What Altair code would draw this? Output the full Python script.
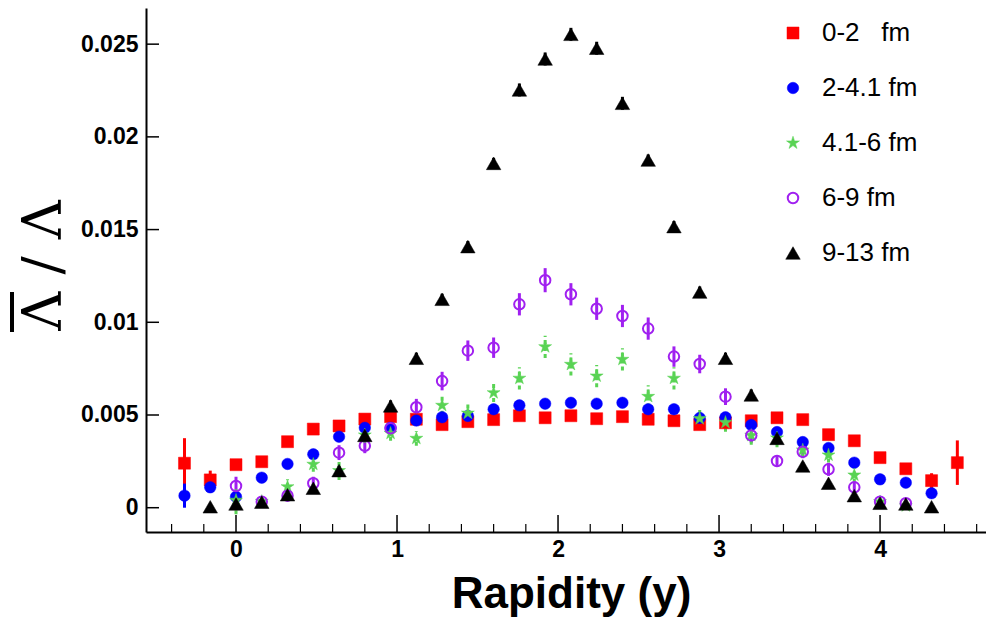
import altair as alt
import pandas as pd

# ---------------- data ----------------
rapidity = [-0.32, -0.16, 0.00, 0.16, 0.32, 0.48, 0.64, 0.80, 0.96, 1.12, 1.28,
            1.44, 1.60, 1.76, 1.92, 2.08, 2.24, 2.40, 2.56, 2.72, 2.88, 3.04,
            3.20, 3.36, 3.52, 3.68, 3.84, 4.00, 4.16, 4.32, 4.48]

series_names = ["0-2\u00a0\u00a0\u00a0fm", "2-4.1 fm", "4.1-6 fm", "6-9 fm", "9-13 fm"]

b_0_2 = [0.00240, 0.00150, 0.00232, 0.00248, 0.00356, 0.00424, 0.00441, 0.00478,
         0.00491, 0.00477, 0.00448, 0.00464, 0.00475, 0.00496, 0.00485, 0.00496,
         0.00480, 0.00491, 0.00477, 0.00469, 0.00448, 0.00458, 0.00469, 0.00485,
         0.00475, 0.00394, 0.00361, 0.00270, 0.00210, 0.00146, 0.00243]
e_0_2 = [0.00135, 0.00050, 0.00012, 0.00012, 0.00012, 0.00012, 0.00012, 0.00012,
         0.00012, 0.00012, 0.00012, 0.00012, 0.00012, 0.00012, 0.00012, 0.00012,
         0.00012, 0.00012, 0.00012, 0.00012, 0.00012, 0.00012, 0.00012, 0.00012,
         0.00012, 0.00012, 0.00012, 0.00012, 0.00012, 0.00040, 0.00120]

b_2_4 = [0.00065, 0.00110, 0.00059, 0.00162, 0.00236, 0.00288, 0.00383, 0.00431,
         0.00431, 0.00470, 0.00488, 0.00495, 0.00531, 0.00552, 0.00561, 0.00566,
         0.00561, 0.00566, 0.00531, 0.00531, 0.00484, 0.00488, 0.00446, 0.00408,
         0.00354, 0.00322, 0.00243, 0.00153, 0.00135, 0.00078, None]
e_2_4 = [0.00065, 0.00030, 0.00020, 0.00015, 0.00015, 0.00015, 0.00015, 0.00015,
         0.00015, 0.00015, 0.00015, 0.00015, 0.00015, 0.00015, 0.00015, 0.00015,
         0.00015, 0.00015, 0.00015, 0.00015, 0.00015, 0.00015, 0.00015, 0.00015,
         0.00015, 0.00015, 0.00015, 0.00015, 0.00015, 0.00020, None]

b_4_6 = [None, None, 0.00040, 0.00034, 0.00113, 0.00234, 0.00200, 0.00392,
         0.00401, 0.00374, 0.00552, 0.00510, 0.00620, 0.00698, 0.00868, 0.00773,
         0.00710, 0.00800, 0.00600, 0.00698, 0.00480, 0.00460, 0.00390, 0.00376,
         0.00311, 0.00284, 0.00176, 0.00032, 0.00010, None, None]
e_4_6 = [None, None, 0.00075, 0.00030, 0.00040, 0.00040, 0.00050, 0.00040,
         0.00040, 0.00040, 0.00050, 0.00050, 0.00050, 0.00060, 0.00060, 0.00060,
         0.00060, 0.00060, 0.00060, 0.00060, 0.00050, 0.00050, 0.00050, 0.00050,
         0.00040, 0.00040, 0.00040, 0.00030, 0.00020, None, None]

b_6_9 = [None, None, 0.00117, 0.00032, 0.00065, 0.00132, 0.00297, 0.00334,
         0.00428, 0.00542, 0.00683, 0.00847, 0.00863, 0.01097, 0.01227, 0.01151,
         0.01073, 0.01034, 0.00966, 0.00815, 0.00775, 0.00599, 0.00390, 0.00252,
         0.00302, 0.00207, 0.00110, 0.00032, 0.00024, None, None]
e_6_9 = [None, None, 0.00050, 0.00030, 0.00030, 0.00035, 0.00040, 0.00040,
         0.00040, 0.00045, 0.00050, 0.00055, 0.00055, 0.00060, 0.00065, 0.00060,
         0.00060, 0.00060, 0.00060, 0.00055, 0.00050, 0.00045, 0.00040, 0.00030,
         0.00035, 0.00035, 0.00030, 0.00020, 0.00020, None, None]

b_9_13 = [None, 0.00005, 0.00020, 0.00030, 0.00070, 0.00105, 0.00200, 0.00390,
          0.00549, 0.00806, 0.01124, 0.01408, 0.01857, 0.02253, 0.02420, 0.02553,
          0.02478, 0.02181, 0.01875, 0.01516, 0.01163, 0.00806, 0.00608, 0.00374,
          0.00225, 0.00132, 0.00065, 0.00024, 0.00020, 0.00005, None]
e_9_13 = [None, 0.00010, 0.00020, 0.00020, 0.00020, 0.00020, 0.00025, 0.00030,
          0.00030, 0.00030, 0.00030, 0.00030, 0.00030, 0.00035, 0.00035, 0.00035,
          0.00035, 0.00035, 0.00030, 0.00030, 0.00030, 0.00030, 0.00030, 0.00025,
          0.00020, 0.00020, 0.00020, 0.00010, 0.00010, 0.00010, None]

x_major = [0, 1, 2, 3, 4]
x_minor = [-0.4, -0.2, 0.2, 0.4, 0.6, 0.8, 1.2, 1.4, 1.6, 1.8, 2.2, 2.4, 2.6, 2.8,
           3.2, 3.4, 3.6, 3.8, 4.2, 4.4, 4.6]
y_major = [0, 0.005, 0.01, 0.015, 0.02, 0.025]

# ---------------- styling ----------------
colors = ["#ff0000", "#0000ff", "#59d354", "#a020f0", "#000000"]
fills = ["#ff0000", "#0000ff", "#59d354", "transparent", "#000000"]
STAR = ("M0,-1L0.2245,-0.309L0.9511,-0.309L0.3633,0.118L0.5878,0.809L0,0.382"
        "L-0.5878,0.809L-0.3633,0.118L-0.9511,-0.309L-0.2245,-0.309Z")
shapes = ["square", "circle", STAR, "circle", "triangle-up"]
sizes = [144, 132, 185, 110, 210]
swidths = [0.5, 0.5, 0.5, 2, 0.5]

W, H = 840, 524
XDOM = [-0.559, 4.658]
YDOM = [-0.00131, 0.02695]

rows = []
for name, vals, errs in zip(series_names,
                            [b_0_2, b_2_4, b_4_6, b_6_9, b_9_13],
                            [e_0_2, e_2_4, e_4_6, e_6_9, e_9_13]):
    for x, v, e in zip(rapidity, vals, errs):
        if v is None:
            continue
        rows.append({"rap": x, "val": v, "lo": v - e, "hi": v + e, "series": name})
df = pd.DataFrame(rows)

xscale = alt.Scale(domain=XDOM, nice=False, zero=False)
yscale = alt.Scale(domain=YDOM, nice=False, zero=False)
sdom = series_names

FONT = "Liberation Sans"

xaxis = alt.Axis(values=x_major, format="d", ticks=False, grid=False,
                 domainColor="black", domainWidth=2,
                 labelFont=FONT, labelFontWeight="bold", labelFontSize=23,
                 labelColor="black", labelPadding=6,
                 title="Rapidity (y)", titleFont=FONT, titleFontWeight="bold",
                 titleFontSize=44, titleColor="black",
                 titleX=425, titleY=75, titleBaseline="alphabetic",
                 titleAlign="center")
# y title: Lambda-bar / Lambda (the bar over the first Lambda is drawn below)
yaxis = alt.Axis(values=y_major, labelExpr="'' + datum.value", ticks=False,
                 grid=False, domainColor="black", domainWidth=2,
                 labelFont=FONT, labelFontWeight="bold", labelFontSize=23,
                 labelColor="black", labelPadding=8,
                 title="\u039B / \u039B", titleFont="DejaVu Serif",
                 titleFontWeight="normal", titleFontSize=54, titleColor="black",
                 titleAngle=270, titleX=-86, titleY=257,
                 titleBaseline="alphabetic", titleAlign="center")

leg = alt.Legend(title=None, orient="none", legendX=634, legendY=12,
                 labelFont=FONT, labelFontSize=26, labelColor="black",
                 labelOffset=16, rowPadding=29, padding=0)

base = alt.Chart(df)

err_main = base.transform_filter(
    alt.datum.series != "4.1-6 fm"
).mark_rule(strokeWidth=3).encode(
    x=alt.X("rap:Q", scale=xscale, axis=xaxis),
    y=alt.Y("lo:Q", scale=yscale, axis=yaxis),
    y2="hi:Q",
    stroke=alt.Stroke("series:N", scale=alt.Scale(domain=sdom, range=colors), legend=leg),
)
err_green = base.transform_filter(
    alt.datum.series == "4.1-6 fm"
).mark_rule(strokeWidth=3, strokeDash=[4, 3]).encode(
    x=alt.X("rap:Q", scale=xscale, axis=xaxis),
    y=alt.Y("lo:Q", scale=yscale, axis=yaxis),
    y2="hi:Q",
    stroke=alt.Stroke("series:N", scale=alt.Scale(domain=sdom, range=colors), legend=leg),
)

points = base.mark_point(opacity=1).encode(
    x=alt.X("rap:Q", scale=xscale, axis=xaxis),
    y=alt.Y("val:Q", scale=yscale, axis=yaxis),
    shape=alt.Shape("series:N", scale=alt.Scale(domain=sdom, range=shapes), legend=leg),
    fill=alt.Fill("series:N", scale=alt.Scale(domain=sdom, range=fills), legend=leg),
    stroke=alt.Stroke("series:N", scale=alt.Scale(domain=sdom, range=colors), legend=leg),
    size=alt.Size("series:N", scale=alt.Scale(type="ordinal", domain=sdom, range=sizes), legend=leg),
    strokeWidth=alt.StrokeWidth("series:N", scale=alt.Scale(type="ordinal", domain=sdom, range=swidths), legend=leg),
)

xmaj = alt.Chart(pd.DataFrame({"t": x_major})).mark_rule(color="black", strokeWidth=1.5).encode(
    x=alt.X("t:Q", scale=xscale, axis=xaxis), y=alt.value(H), y2=alt.value(H - 17))
xmin = alt.Chart(pd.DataFrame({"t": x_minor})).mark_rule(color="black", strokeWidth=1.2).encode(
    x=alt.X("t:Q", scale=xscale, axis=xaxis), y=alt.value(H), y2=alt.value(H - 8))
ymaj = alt.Chart(pd.DataFrame({"t": y_major})).mark_rule(color="black", strokeWidth=1.5).encode(
    y=alt.Y("t:Q", scale=yscale, axis=yaxis), x=alt.value(0), x2=alt.value(13))

# overline of the anti-Lambda in the rotated y title
overbar = alt.Chart(pd.DataFrame({"a": [0]})).mark_rule(color="black", strokeWidth=4).encode(
    x=alt.value(-134), y=alt.value(284), y2=alt.value(324))

chart = alt.layer(err_main, err_green, points, xmaj, xmin, ymaj, overbar).properties(
    width=W, height=H,
    padding={"left": 138, "top": 0, "right": 0, "bottom": 85},
    autosize=alt.AutoSizeParams(type="none"),
    background="white",
).configure_view(stroke=None)

chart.save("out.html", embed_options={"renderer": "svg", "actions": False})
